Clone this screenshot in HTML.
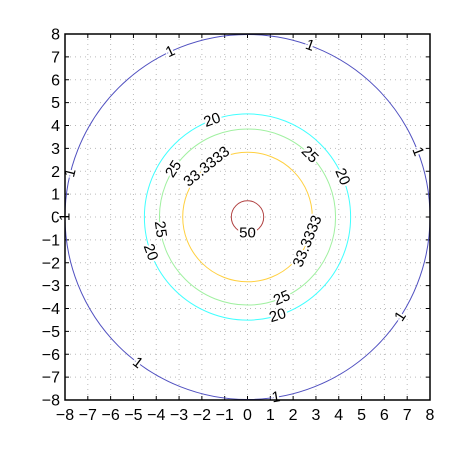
<!DOCTYPE html>
<html><head><meta charset="utf-8"><style>
body{margin:0;background:#fff;}
svg{display:block;font-family:"Liberation Sans",sans-serif;}
</style></head><body>
<svg id="chart" width="450" height="450" viewBox="0 0 450 450"></svg>
<script>
const levels = ["1","20","25","33.3333","50"];
const radii = [8, 4.52, 3.86, 2.84, 0.71];
const colors = ["#5050c0","#40ffff","#a0f0a0","#ffd040","#b04040"];
const labelAngles = [[115,70,21,166,180,233,-81,-33],[110,23,200,-73],[45,147,188,-67],[129,-22],[-90]];
const ticks = [-8,-7,-6,-5,-4,-3,-2,-1,0,1,2,3,4,5,6,7,8];
const NS="http://www.w3.org/2000/svg";
const svg=document.getElementById('chart');
const L=65,R=430,T=34,B=400;
const xs=v=>L+(v+8)/16*(R-L);
const ys=v=>B-(v+8)/16*(B-T);
const sc=(R-L)/16;
function mk(tag,attrs,parent){const e=document.createElementNS(NS,tag);for(const k in attrs)e.setAttribute(k,attrs[k]);(parent||svg).appendChild(e);return e;}
const grid=mk('g',{});


ticks.forEach(t=>{
  if(t>-8&&t<8){
    mk('line',{x1:xs(t),x2:xs(t),y1:T,y2:B,stroke:'#bbb','stroke-width':1,'stroke-dasharray':'1,4'},grid);
    mk('line',{x1:L,x2:R,y1:ys(t),y2:ys(t),stroke:'#bbb','stroke-width':1,'stroke-dasharray':'1,4'},grid);
  }
  const tx=mk('line',{x1:xs(t),x2:xs(t),y1:B,y2:B-4,stroke:'#000'});
  
  
  mk('line',{x1:xs(t),x2:xs(t),y1:T,y2:T+4,stroke:'#000'});
  mk('line',{x1:L,x2:L+4,y1:ys(t),y2:ys(t),stroke:'#000'});
  mk('line',{x1:R,x2:R-4,y1:ys(t),y2:ys(t),stroke:'#000'});
  const xl=mk('text',{x:xs(t),y:B+20,'font-size':16,'text-anchor':'middle'});
  xl.textContent=(t<0?'\u2212'+(-t):t);
  
  
  const yl=mk('text',{x:L-5,y:ys(t)+5.5,'font-size':16,'text-anchor':'end'});
  yl.textContent=(t<0?'\u2212'+(-t):t);
  
  
});
const cx=xs(0),cy=ys(0);
levels.forEach((lv,i)=>{
  const c=mk('circle',{cx:cx,cy:cy,r:radii[i]*sc,fill:'none',stroke:colors[i],'stroke-width':1});
  
  
});
levels.forEach((lv,i)=>{
  labelAngles[i].forEach(a=>{
    const th=a*Math.PI/180;
    const px=cx+radii[i]*sc*Math.cos(th), py=cy-radii[i]*sc*Math.sin(th);
    let rot=a-90; while(rot>90)rot-=180; while(rot<=-90)rot+=180;
    const t=mk('text',{x:px,y:py,'font-size':15,'text-anchor':'middle','dominant-baseline':'central',
      transform:`rotate(${-rot} ${px} ${py})`,stroke:'#fff','stroke-width':4,'paint-order':'stroke',fill:'#000'});
    t.textContent=lv;
    
    
  });
});
const box=mk('rect',{x:L,y:T,width:R-L,height:B-T,fill:'none',stroke:'#000','stroke-width':1.5});


</script>
</body></html>
